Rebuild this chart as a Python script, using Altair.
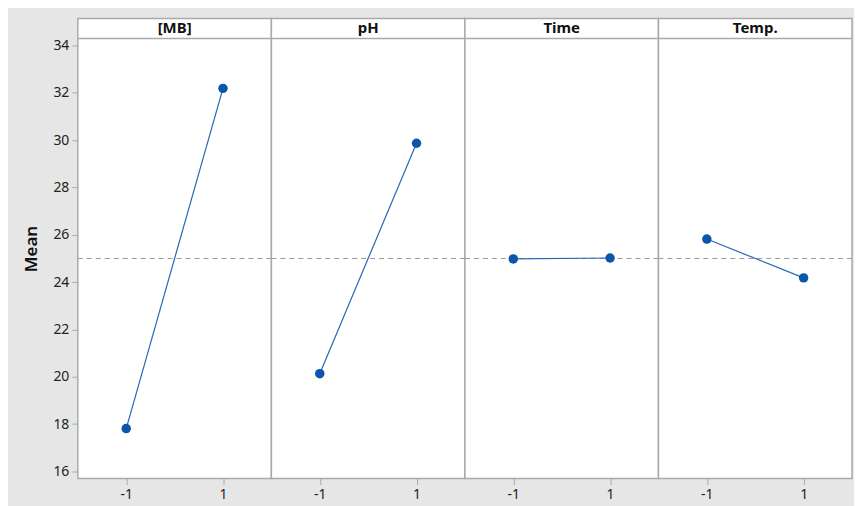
import altair as alt
import pandas as pd

factors = ["[MB]", "pH", "Time", "Temp."]
levels = [-1, 1]
mean_low = [17.81, 20.13, 24.98, 25.82]
mean_high = [32.19, 29.87, 25.02, 24.18]
grand_mean = 25.0
y_ticks = [16, 18, 20, 22, 24, 26, 28, 30, 32, 34]

rows = []
for f, lo, hi in zip(factors, mean_low, mean_high):
    rows.append({"factor": f, "level": levels[0], "mean": lo})
    rows.append({"factor": f, "level": levels[1], "mean": hi})
df = pd.DataFrame(rows)

FONT = "Noto Sans"
BLUE = "#0a56a8"

y_scale = alt.Scale(domain=[15.7, 35.14], nice=False, zero=False)
x_scale = alt.Scale(domain=[-2, 2], nice=False, zero=False)

base = alt.Chart().encode(
    x=alt.X("level:Q", scale=x_scale,
            axis=alt.Axis(values=levels, title=None, grid=False, domain=False,
                          tickColor="#aaaaaa", tickSize=6, labelPadding=3,
                          labelExpr="datum.value < 0 ? '-1' : '1'",
                          labelFontSize=14, labelColor="#222222", labelFont=FONT)),
    y=alt.Y("mean:Q", scale=y_scale,
            axis=alt.Axis(values=y_ticks, title="Mean", grid=False, domain=False,
                          tickColor="#aaaaaa", tickSize=6, labelPadding=3,
                          labelFontSize=14, labelColor="#222222", labelFont=FONT,
                          titleFontSize=17, titleFontWeight=600, titleFont=FONT,
                          titleColor="#111111", titlePadding=12)),
)

line = base.mark_line(color="#2a66b5", strokeWidth=1.2)
pts = base.mark_circle(color=BLUE, size=90, opacity=1)

mean_rule = alt.Chart().mark_rule(color="#999999", strokeDash=[5, 4], strokeWidth=1).encode(
    y=alt.datum(grand_mean)
).transform_filter(alt.datum.level == -1)

header_rule = alt.Chart().mark_rule(color="#aaaaaa", strokeWidth=1.5).encode(
    y=alt.datum(34.3)
).transform_filter(alt.datum.level == -1)

header_text = alt.Chart().mark_text(fontSize=15, fontWeight="bold", font=FONT,
                                    color="#111111", baseline="middle").encode(
    x=alt.datum(0), y=alt.datum(34.74), text="factor:N"
).transform_filter(alt.datum.level == -1)

layered = alt.layer(mean_rule, header_rule, line, pts, header_text, data=df).properties(
    width=194, height=461
)

chart = layered.facet(
    column=alt.Column("factor:N", sort=factors, header=None, title=None),
    spacing=0,
    bounds="flush",
).properties(
    background="#e6e6e6",
    padding={"left": 14, "top": 9, "right": 0, "bottom": 8},
).configure_view(
    stroke="#aaaaaa", strokeWidth=1.5, fill="white"
)

chart.save("out.html", embed_options={"renderer": "svg", "actions": False})
